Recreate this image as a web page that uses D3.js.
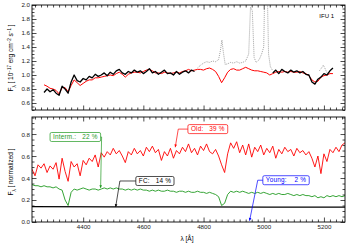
<!DOCTYPE html>
<html>
<head>
<meta charset="utf-8">
<script src="https://cdn.jsdelivr.net/npm/d3@7"></script>
<style>
  body { margin: 0; background: #fff; }
  svg { display: block; font-family: "Liberation Sans", Arial, sans-serif; }
  .tick text { font-size: 6.2px; fill: #222; }
  .tick line { stroke-width: 0.7; }
  .note { font-size: 6.4px; white-space: pre; letter-spacing: 0.2px; }
</style>
</head>
<body>
<svg id="chart" width="351" height="246"></svg>
<script>
// wavelength grids (Angstrom)
const lamTop = d3.range(4270, 5231, 10);
const lamBot = d3.range(4230, 5271, 10);

// top panel: synthetic model (red) and observed spectrum (black, null = masked)
const modelTop = [
  0.86,0.84,0.81,0.80,0.78,0.73,0.82,0.82,0.76,0.85,
  0.93,0.89,0.85,0.88,0.91,0.93,0.93,0.96,0.96,0.97,
  0.98,0.99,1.00,0.99,1.02,1.04,1.01,0.97,1.01,1.03,
  1.04,1.04,1.03,1.05,1.07,1.08,1.06,1.03,1.03,1.02,
  1.04,1.03,1.02,1.03,1.04,1.03,1.05,1.06,1.08,1.06,
  1.07,1.08,1.08,1.07,1.09,1.10,1.08,1.05,0.98,0.89,
  0.96,1.04,1.08,1.09,1.07,1.07,1.09,1.11,1.09,1.07,
  1.06,1.06,1.05,1.04,1.03,1.00,1.02,1.04,1.05,1.04,
  1.05,1.04,1.05,1.04,1.04,1.05,1.03,1.02,0.99,0.93,
  0.90,0.91,0.97,0.99,1.00,1.02,1.02
];
const obsTop = [
  0.75,0.80,0.76,0.79,0.74,0.71,0.84,0.80,0.74,0.90,
  1.00,0.92,0.90,0.95,0.93,0.98,0.96,1.01,0.98,1.00,
  1.03,0.99,1.04,1.01,1.06,1.08,1.03,1.01,1.05,1.03,
  1.07,1.04,1.06,1.02,1.05,1.09,1.03,1.05,1.01,1.04,
  1.07,1.02,1.03,1.00,1.05,1.01,1.04,1.06,1.03,1.07,
  1.05,
  null,null,null,null,null,null,null,null,null,null,
  null,null,null,null,null,null,null,null,null,null,
  null,null,null,null,null,
  1.03,1.07,1.02,1.08,1.05,1.03,1.07,1.04,1.06,1.03,
  1.05,1.01,1.00,0.90,0.87,0.94,0.97,1.02,1.00,1.06,
  1.10
];
// masked region (emission lines), dotted grey
const maskLam = [4780,4790,4800,4810,4820,4830,4840,4850,4856,4861,4866,4872,4880,4890,4900,4910,4920,4930,4940,4950,4956,4962,4968,4975,4985,4993,5000,5005,5010,5016,5022,5030];
const maskFlux = [1.10,1.14,1.17,1.19,1.18,1.20,1.19,1.22,1.35,1.50,1.32,1.15,1.16,1.18,1.17,1.19,1.17,1.18,1.20,1.30,1.97,1.92,1.25,1.18,1.22,1.30,1.40,2.70,2.60,1.30,1.12,1.06];
const mask2Lam = [5185,5192,5198,5204,5210];
const mask2Flux = [1.06,1.10,1.14,1.09,1.03];

// bottom panel: normalised components
const oldComp = [
  0.48,0.42,0.52,0.49,0.53,0.45,0.51,0.48,0.54,0.39,
  0.58,0.46,0.37,0.55,0.50,0.53,0.42,0.56,0.52,0.58,
  0.55,0.61,0.50,0.63,0.59,0.64,0.61,0.67,0.62,0.65,
  0.60,0.54,0.64,0.61,0.67,0.62,0.65,0.60,0.68,0.64,
  0.69,0.63,0.66,0.56,0.64,0.60,0.67,0.58,0.65,0.62,
  0.68,0.64,0.71,0.63,0.67,0.61,0.69,0.65,0.71,0.64,
  0.62,0.66,0.60,0.52,0.45,0.62,0.72,0.67,0.73,0.63,
  0.70,0.61,0.71,0.59,0.68,0.64,0.70,0.61,0.67,0.63,
  0.69,0.58,0.66,0.62,0.68,0.64,0.66,0.60,0.67,0.63,
  0.65,0.61,0.64,0.58,0.50,0.60,0.44,0.62,0.55,0.66,
  0.63,0.68,0.64,0.70,0.72
];
const intComp = [
  0.34,0.33,0.33,0.32,0.33,0.32,0.32,0.31,0.32,0.30,
  0.29,0.20,0.15,0.27,0.30,0.29,0.30,0.31,0.30,0.29,
  0.30,0.30,0.29,0.30,0.31,0.30,0.31,0.30,0.31,0.30,
  0.30,0.29,0.30,0.29,0.30,0.29,0.30,0.29,0.29,0.28,
  0.29,0.28,0.29,0.28,0.28,0.29,0.28,0.28,0.27,0.28,
  0.28,0.27,0.28,0.27,0.27,0.28,0.27,0.27,0.26,0.27,
  0.26,0.25,0.23,0.15,0.17,0.25,0.28,0.27,0.28,0.27,
  0.28,0.27,0.26,0.27,0.26,0.27,0.26,0.27,0.26,0.25,
  0.26,0.25,0.26,0.25,0.25,0.26,0.25,0.24,0.25,0.24,
  0.25,0.24,0.24,0.23,0.24,0.22,0.23,0.22,0.24,0.23,
  0.24,0.23,0.24,0.23,0.24
];
const fcLam = [4230, 4490, 4750, 5010, 5270];
const fcComp = [0.139, 0.138, 0.137, 0.136, 0.135];

const xMajor = [4400, 4600, 4800, 5000, 5200];
const yTopMajor = [0.6, 0.8, 1.0, 1.2, 1.4, 1.6, 1.8, 2.0];
const yBotMajor = [0.0, 0.2, 0.4, 0.6, 0.8];

// component labels: text, colour, box anchor and pointer target (data units)
const notes = [
  { text: "Interm.:   22 %", color: "#1f9a1f", bx: 4290, by: 0.773, side: "right", tx: 4458, ty: 0.31 },
  { text: "Old:   39 %",     color: "#ff0000", bx: 4748, by: 0.845, side: "left", ex: 4716, tx: 4706, ty: 0.68 },
  { text: "FC:   14 %",      color: "#000000", bx: 4575, by: 0.373, side: "left", ex: 4522, tx: 4508, ty: 0.137 },
  { text: "Young:    2 %",   color: "#0000ff", bx: 4997, by: 0.38,  side: "left", ex: 4980, tx: 4953, ty: 0.012 }
];

const svg = d3.select("#chart");
const L = 32, R = 345;
const x = d3.scaleLinear().domain([4230, 5270]).range([L, R]);
const yTop = d3.scaleLinear().domain([0.5, 2.0]).range([110, 5]);
const yBot = d3.scaleLinear().domain([0, 0.955]).range([222, 117]);

const xMinor = d3.range(4240, 5270, 20).filter(v => v % 200 !== 0);

function panel(y, yMajor, name, showX) {
  const [y0, y1] = y.range();
  const [d0, d1] = y.domain();
  const yMinor = d3.range(d0, d1 + 1e-6, 0.05).filter(v => !yMajor.some(m => Math.abs(m - v) < 1e-6));

  svg.append("clipPath").attr("id", "clip-" + name)
    .append("rect").attr("x", L).attr("y", y1).attr("width", R - L).attr("height", y0 - y1);

  const clean = g => { g.select(".domain").remove(); g.attr("font-size", null).attr("font-family", null); };

  // x ticks bottom & top
  svg.append("g").attr("transform", `translate(0,${y0})`)
    .call(d3.axisBottom(x).tickValues(xMajor).tickSize(-4.5).tickPadding(3)
      .tickFormat(showX ? d3.format("d") : ""))
    .call(clean);
  svg.append("g").attr("transform", `translate(0,${y0})`)
    .call(d3.axisBottom(x).tickValues(xMinor).tickSize(-2.5).tickFormat("")).call(clean);
  svg.append("g").attr("transform", `translate(0,${y1})`)
    .call(d3.axisTop(x).tickValues(xMajor).tickSize(-4.5).tickFormat("")).call(clean);
  svg.append("g").attr("transform", `translate(0,${y1})`)
    .call(d3.axisTop(x).tickValues(xMinor).tickSize(-2.5).tickFormat("")).call(clean);

  // y ticks left & right
  svg.append("g").attr("transform", `translate(${L},0)`)
    .call(d3.axisLeft(y).tickValues(yMajor).tickSize(-4.5).tickPadding(2).tickFormat(d3.format(".1f")))
    .call(clean);
  svg.append("g").attr("transform", `translate(${L},0)`)
    .call(d3.axisLeft(y).tickValues(yMinor).tickSize(-2.5).tickFormat("")).call(clean);
  svg.append("g").attr("transform", `translate(${R},0)`)
    .call(d3.axisRight(y).tickValues(yMajor).tickSize(-4.5).tickFormat("")).call(clean);
  svg.append("g").attr("transform", `translate(${R},0)`)
    .call(d3.axisRight(y).tickValues(yMinor).tickSize(-2.5).tickFormat("")).call(clean);

  return svg.append("g").attr("clip-path", `url(#clip-${name})`);
}

function curve(g, xs, ys, y, color, width, dash) {
  const line = d3.line()
    .defined((d, i) => ys[i] != null)
    .x((d, i) => x(xs[i]))
    .y((d, i) => y(ys[i]));
  g.append("path").datum(xs)
    .attr("d", line)
    .attr("fill", "none")
    .attr("stroke", color)
    .attr("stroke-width", width)
    .attr("stroke-linejoin", "round")
    .attr("stroke-dasharray", dash || null);
}

// ---- top panel
const topPlot = panel(yTop, yTopMajor, "top", false);
curve(topPlot, maskLam, maskFlux, yTop, "#8c8c8c", 0.8, "1,1");
curve(topPlot, mask2Lam, mask2Flux, yTop, "#8c8c8c", 0.8, "1,1");
curve(topPlot, lamTop, modelTop, yTop, "#ff0000", 1);
curve(topPlot, lamTop, obsTop, yTop, "#000000", 1.3);

svg.append("text").attr("x", 334).attr("y", 18)
  .attr("text-anchor", "end").attr("font-size", 6).text("IFU 1");

// ---- bottom panel
const botPlot = panel(yBot, yBotMajor, "bot", true);
curve(botPlot, lamBot, intComp, yBot, "#1f9a1f", 0.9);
curve(botPlot, lamBot, oldComp, yBot, "#ff0000", 0.9);
curve(botPlot, fcLam, fcComp, yBot, "#000000", 1.2);

// frames
[yTop, yBot].forEach(y => {
  svg.append("rect")
    .attr("x", L).attr("y", y.range()[1])
    .attr("width", R - L).attr("height", y.range()[0] - y.range()[1])
    .attr("fill", "none").attr("stroke", "#000").attr("stroke-width", 0.9);
});

// component labels with pointers
notes.forEach(n => {
  const bx0 = x(n.bx), bmid = yBot(n.by);
  const box = svg.append("rect");
  const t = svg.append("text").attr("class", "note")
    .attr("x", bx0 + 3).attr("y", bmid).attr("dy", "0.35em")
    .attr("fill", n.color).text(n.text);
  const w = t.node().getComputedTextLength() + 6;
  box.attr("x", bx0).attr("y", bmid - 4.5).attr("width", w).attr("height", 9)
    .attr("rx", 1.5).attr("fill", "#fff").attr("stroke", n.color).attr("stroke-width", 0.7);
  const sx = n.side === "right" ? bx0 + w : bx0;
  const ex = n.side === "right" ? sx + 1 : x(n.ex);
  const tx = x(n.tx), ty = yBot(n.ty);
  svg.append("path")
    .attr("d", `M${sx},${bmid}L${ex},${bmid}L${tx},${ty}`)
    .attr("fill", "none").attr("stroke", n.color).attr("stroke-width", 0.7);
  // small arrow head at target
  const ang = Math.atan2(ty - bmid, tx - ex);
  const a = 3, s = 0.45;
  svg.append("path")
    .attr("d", `M${tx},${ty}L${tx - a * Math.cos(ang - s)},${ty - a * Math.sin(ang - s)}L${tx - a * Math.cos(ang + s)},${ty - a * Math.sin(ang + s)}Z`)
    .attr("fill", n.color);
});

// axis titles
const t1 = svg.append("text").attr("transform", "translate(13,58) rotate(-90)")
  .attr("text-anchor", "middle").attr("font-size", 6.5);
t1.append("tspan").text("F");
t1.append("tspan").attr("baseline-shift", "sub").attr("font-size", 4.5).text("λ");
t1.append("tspan").text(" [ 10");
t1.append("tspan").attr("baseline-shift", "super").attr("font-size", 4.5).text("−17");
t1.append("tspan").text(" erg cm");
t1.append("tspan").attr("baseline-shift", "super").attr("font-size", 4.5).text("−2");
t1.append("tspan").text(" s");
t1.append("tspan").attr("baseline-shift", "super").attr("font-size", 4.5).text("−1");
t1.append("tspan").text(" ]");

const t2 = svg.append("text").attr("transform", "translate(13,172) rotate(-90)")
  .attr("text-anchor", "middle").attr("font-size", 6.5);
t2.append("tspan").text("F");
t2.append("tspan").attr("baseline-shift", "sub").attr("font-size", 4.5).text("λ");
t2.append("tspan").text(" [ normalized ]");

svg.append("text").attr("x", 187).attr("y", 241)
  .attr("text-anchor", "middle").attr("font-size", 6.5).text("λ [Å]");
</script>
</body>
</html>
